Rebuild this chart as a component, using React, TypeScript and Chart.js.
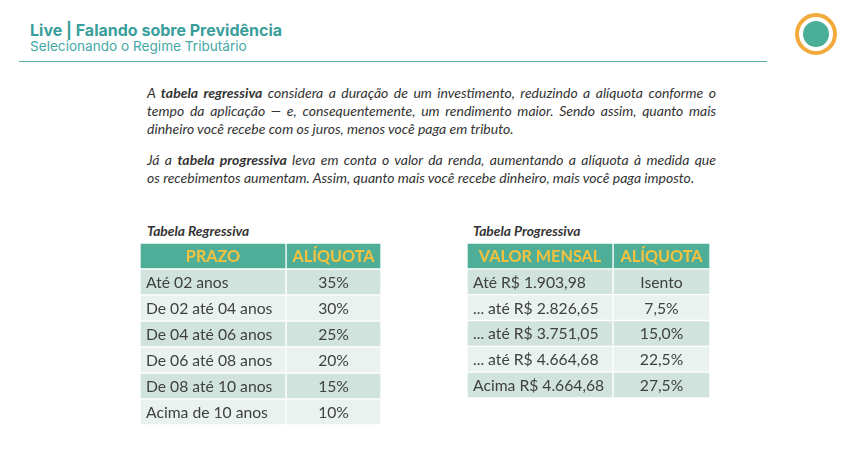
import React, { useEffect, useRef } from "react";
import { Chart, registerables } from "chart.js";

Chart.register(...registerables);

// ---- Data ----
const regHeaders = ["PRAZO", "ALÍQUOTA"];
const regPeriods = [
  "Até 02 anos",
  "De 02 até 04 anos",
  "De 04 até 06 anos",
  "De 06 até 08 anos",
  "De 08 até 10 anos",
  "Acima de 10 anos",
];
const regRates = ["35%", "30%", "25%", "20%", "15%", "10%"];

const progHeaders = ["VALOR MENSAL", "ALÍQUOTA"];
const progIncomes = [
  "Até R$ 1.903,98",
  "... até R$ 2.826,65",
  "... até R$ 3.751,05",
  "... até R$ 4.664,68",
  "Acima R$ 4.664,68",
];
const progRates = ["Isento", "7,5%", "15,0%", "22,5%", "27,5%"];

// ---- Styles ----
const HEADER_BG = "#4fae98";
const ROW_DARK = "#d0e4dd";
const ROW_LIGHT = "#e9f2ef";
const HEADER_TEXT = "#f5c23e";
const CELL_TEXT = "#404040";

const cellTextPlugin = {
  id: "cellText",
  afterDatasetsDraw(chart: any) {
    const ctx = chart.ctx;
    const texts: string[][] = chart.options.plugins.cellText.texts;
    ctx.save();
    ctx.textBaseline = "middle";
    chart.data.datasets.forEach((_ds: any, di: number) => {
      const meta = chart.getDatasetMeta(di);
      meta.data.forEach((bar: any, ri: number) => {
        const { x, y, base } = bar.getProps(["x", "y", "base"], true);
        const txt = texts[di][ri];
        const left = Math.min(x, base);
        const right = Math.max(x, base);
        if (ri === 0) {
          ctx.font = "bold 16.2px Lato";
          ctx.fillStyle = HEADER_TEXT;
          ctx.textAlign = "center";
          ctx.fillText(txt, (left + right) / 2, y + 1);
        } else {
          ctx.font = "15.7px Lato";
          ctx.fillStyle = CELL_TEXT;
          if (di === 0) {
            ctx.textAlign = "left";
            ctx.fillText(txt, left + 6, y + 1);
          } else {
            ctx.textAlign = "center";
            ctx.fillText(txt, (left + right) / 2, y + 1);
          }
        }
      });
    });
    ctx.restore();
  },
};

function TableChart(props: {
  headers: string[];
  col1: string[];
  col2: string[];
  split: number;
  width: number;
  height: number;
  left: number;
  top: number;
}) {
  const ref = useRef<HTMLCanvasElement | null>(null);
  useEffect(() => {
    if (!ref.current) return;
    const rowLabels = ["header", ...props.col1];
    const colors = rowLabels.map((_, i) =>
      i === 0 ? HEADER_BG : i % 2 === 1 ? ROW_DARK : ROW_LIGHT
    );
    const chart = new Chart(ref.current, {
      type: "bar",
      data: {
        labels: rowLabels,
        datasets: [
          {
            data: rowLabels.map(() => [0, props.split]) as any,
            backgroundColor: colors,
            borderColor: "#ffffff",
            borderWidth: 1,
            borderSkipped: false,
            grouped: false,
            barPercentage: 1,
            categoryPercentage: 1,
          } as any,
          {
            data: rowLabels.map(() => [props.split, 1]) as any,
            backgroundColor: colors,
            borderColor: "#ffffff",
            borderWidth: 1,
            borderSkipped: false,
            grouped: false,
            barPercentage: 1,
            categoryPercentage: 1,
          } as any,
        ],
      },
      options: {
        indexAxis: "y",
        responsive: false,
        animation: false,
        events: [],
        layout: { padding: 0 },
        scales: {
          x: { type: "linear", min: 0, max: 1, display: false },
          y: { type: "category", display: false },
        },
        plugins: {
          legend: { display: false },
          tooltip: { enabled: false },
          cellText: {
            texts: [
              [props.headers[0], ...props.col1],
              [props.headers[1], ...props.col2],
            ],
          },
        } as any,
      },
      plugins: [cellTextPlugin],
    });
    return () => chart.destroy();
  }, []);
  return (
    <canvas
      ref={ref}
      width={props.width}
      height={props.height}
      style={{
        position: "absolute",
        left: props.left,
        top: props.top,
        width: props.width,
        height: props.height,
      }}
    />
  );
}

const abs = (left: number, top: number, extra: any = {}) => ({
  position: "absolute" as const,
  left,
  top,
  whiteSpace: "nowrap" as const,
  ...extra,
});

const paraStyle = {
  fontFamily: "Lato",
  fontStyle: "italic",
  fontSize: 14,
  lineHeight: "18px",
  color: "#333333",
};

const justified = {
  ...paraStyle,
  width: 569,
  textAlign: "justify",
  textAlignLast: "justify",
  whiteSpace: "normal",
};

const captionStyle = {
  fontFamily: "Lato",
  fontStyle: "italic",
  fontWeight: 700,
  fontSize: 13.8,
  lineHeight: "13px",
  color: "#333333",
};

export default function App() {
  return (
    <div
      style={{
        position: "fixed",
        left: 0,
        top: 0,
        width: 850,
        height: 454,
        background: "#ffffff",
        overflow: "hidden",
      }}
    >
      <div
        style={abs(30, 22, {
          fontFamily: "Inter",
          fontWeight: 700,
          fontSize: 16,
          lineHeight: "16px",
          color: "#3a9e9b",
        })}
      >
        Live | Falando sobre Previdência
      </div>
      <div
        style={abs(30, 39.5, {
          fontFamily: "Inter",
          fontWeight: 400,
          fontSize: 13.6,
          lineHeight: "13px",
          color: "#45a8a6",
        })}
      >
        Selecionando o Regime Tributário
      </div>
      <div
        style={{
          position: "absolute",
          left: 19,
          top: 61,
          width: 748,
          height: 1,
          background: "#5ab1a6",
        }}
      />
      <div
        style={{
          position: "absolute",
          left: 795,
          top: 13,
          width: 42,
          height: 42,
          boxSizing: "border-box",
          borderRadius: "50%",
          border: "4px solid #f2aa3c",
        }}
      >
        <div
          style={{
            position: "absolute",
            left: 4,
            top: 4,
            width: 26,
            height: 26,
            borderRadius: "50%",
            background: "#4bae96",
          }}
        />
      </div>

      <div style={abs(147, 83.5, justified)}>
        A <b>tabela regressiva</b> considera a duração de um investimento, reduzindo a alíquota conforme o
      </div>
      <div style={abs(147, 101.5, justified)}>
        tempo da aplicação — e, consequentemente, um rendimento maior. Sendo assim, quanto mais
      </div>
      <div style={abs(147, 119.5, paraStyle)}>
        dinheiro você recebe com os juros, menos você paga em tributo.
      </div>
      <div style={abs(147, 150.5, justified)}>
        Já a <b>tabela progressiva</b> leva em conta o valor da renda, aumentando a alíquota à medida que
      </div>
      <div style={abs(147, 168.5, paraStyle)}>
        os recebimentos aumentam. Assim, quanto mais você recebe dinheiro, mais você paga imposto.
      </div>

      <div style={abs(147, 223.5, captionStyle)}>Tabela Regressiva</div>
      <div style={abs(473, 223.5, captionStyle)}>Tabela Progressiva</div>

      <TableChart
        headers={regHeaders}
        col1={regPeriods}
        col2={regRates}
        split={0.606}
        left={140}
        top={243}
        width={241}
        height={182}
      />
      <TableChart
        headers={progHeaders}
        col1={progIncomes}
        col2={progRates}
        split={0.601}
        left={467}
        top={243}
        width={243}
        height={155}
      />
    </div>
  );
}
